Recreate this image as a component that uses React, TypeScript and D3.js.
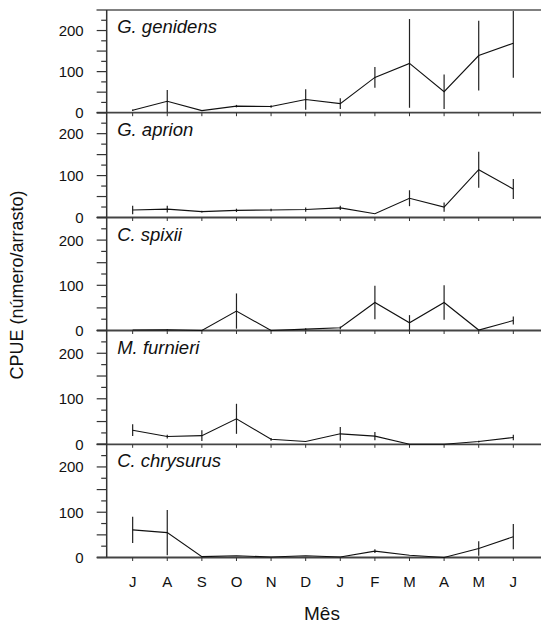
import React, { useEffect, useRef } from "react";
import * as d3 from "d3";

const months = ["J", "A", "S", "O", "N", "D", "J", "F", "M", "A", "M", "J"];
const species = ["G. genidens", "G. aprion", "C. spixii", "M. furnieri", "C. chrysurus"];

// mean CPUE per month, one array per species
const genidens = [6, 28, 5, 16, 15, 32, 22, 86, 120, 51, 139, 169];
const aprion = [18, 20, 14, 17, 18, 19, 23, 9, 46, 25, 114, 68];
const spixii = [1, 1.5, 0, 43, 0, 3, 6, 62, 17, 62, 1, 22];
const furnieri = [31, 17, 19, 56, 11, 6, 23, 18, 0, 0, 6, 15];
const chrysurus = [61, 55, 2, 4, 1, 4, 1, 14, 5, 0, 20, 46];

// half length of the error bars
const genidensErr = [2, 27, 0, 3, 3, 25, 13, 25, 108, 42, 85, 84];
const aprionErr = [10, 8, 2, 4, 3, 5, 5, 0, 19, 11, 43, 24];
const spixiiErr = [0, 1, 0, 39, 0, 2, 3, 37, 17, 38, 0, 9];
const furnieriErr = [13, 4, 12, 33, 3, 0, 15, 9, 0, 0, 2, 6];
const chrysurusErr = [29, 50, 0, 0, 0, 0, 0, 4, 0, 0, 16, 28];

const yTicks = d3.range(0, 251, 25);
const yLabels = [0, 100, 200];

const series = [genidens, aprion, spixii, furnieri, chrysurus];
const errors = [genidensErr, aprionErr, spixiiErr, furnieriErr, chrysurusErr];

const Chart = () => {
    const svgRef = useRef(null);

    useEffect(() => {
        const svg = d3.select(svgRef.current);
        svg.selectAll("*").remove();

        const W = 541;
        const axisX = 106.7;
        const bounds = [10, 112.7, 217.5, 330.5, 444.3, 557.5];
        const font = "'Liberation Sans', Arial, sans-serif";

        const x = d3.scaleLinear().domain([-0.75, 11.8]).range([axisX, W]);

        species.forEach((name, i) => {
            const top = bounds[i];
            const bottom = bounds[i + 1];
            const y = d3.scaleLinear().domain([0, 250]).range([bottom, top]);
            const g = svg.append("g");

            // y ticks: long every 50, short every 25
            g.selectAll(".yt")
                .data(yTicks)
                .enter()
                .append("line")
                .attr("x1", (d) => (d % 50 === 0 ? axisX - 10 : axisX - 5.5))
                .attr("x2", axisX)
                .attr("y1", (d) => y(d))
                .attr("y2", (d) => y(d))
                .attr("stroke", "#333")
                .attr("stroke-width", 1.2);

            g.selectAll(".yl")
                .data(yLabels)
                .enter()
                .append("text")
                .attr("x", axisX - 23)
                .attr("y", (d) => y(d))
                .attr("dy", "0.36em")
                .attr("text-anchor", "end")
                .attr("font-family", font)
                .attr("font-size", 15)
                .attr("fill", "#111")
                .text((d) => d);

            // zero line
            g.append("line")
                .attr("x1", axisX - 10)
                .attr("x2", W)
                .attr("y1", y(0))
                .attr("y2", y(0))
                .attr("stroke", "#444")
                .attr("stroke-width", 1.8);

            // month ticks
            g.selectAll(".xt")
                .data(months)
                .enter()
                .append("line")
                .attr("x1", (d, j) => x(j))
                .attr("x2", (d, j) => x(j))
                .attr("y1", y(0))
                .attr("y2", y(0) + 3.5)
                .attr("stroke", "#333")
                .attr("stroke-width", 1);

            // error bars
            const vals = series[i];
            const errs = errors[i];
            g.selectAll(".err")
                .data(vals)
                .enter()
                .append("line")
                .attr("x1", (d, j) => x(j))
                .attr("x2", (d, j) => x(j))
                .attr("y1", (d, j) => y(Math.min(250, d + errs[j])))
                .attr("y2", (d, j) => y(Math.max(0, d - errs[j])))
                .attr("stroke", "#222")
                .attr("stroke-width", 1.2);

            const line = d3
                .line<number>()
                .x((d, j) => x(j))
                .y((d) => y(d));

            g.append("path")
                .datum(vals)
                .attr("fill", "none")
                .attr("stroke", "#111")
                .attr("stroke-width", 1.1)
                .attr("d", line);

            g.append("text")
                .attr("x", axisX + 10.5)
                .attr("y", top + 23)
                .attr("font-family", font)
                .attr("font-style", "italic")
                .attr("font-size", 18.5)
                .attr("fill", "#111")
                .text(name);
        });

        // top border
        svg.append("line")
            .attr("x1", axisX - 10)
            .attr("x2", W)
            .attr("y1", bounds[0])
            .attr("y2", bounds[0])
            .attr("stroke", "#808080")
            .attr("stroke-width", 2);

        // left axis
        svg.append("line")
            .attr("x1", axisX)
            .attr("x2", axisX)
            .attr("y1", bounds[0])
            .attr("y2", bounds[5])
            .attr("stroke", "#333")
            .attr("stroke-width", 1.5);

        // month labels
        svg.selectAll(".ml")
            .data(months)
            .enter()
            .append("text")
            .attr("x", (d, j) => x(j))
            .attr("y", 587)
            .attr("text-anchor", "middle")
            .attr("font-family", font)
            .attr("font-size", 15)
            .attr("fill", "#111")
            .text((d) => d);

        svg.append("text")
            .attr("x", 322)
            .attr("y", 620)
            .attr("text-anchor", "middle")
            .attr("font-family", font)
            .attr("font-size", 19)
            .attr("fill", "#111")
            .text("Mês");

        svg.append("text")
            .attr("transform", "translate(23,285) rotate(-90)")
            .attr("text-anchor", "middle")
            .attr("font-family", font)
            .attr("font-size", 18)
            .attr("fill", "#111")
            .text("CPUE (número/arrasto)");
    }, []);

    return (
        <svg
            ref={svgRef}
            width={541}
            height={623}
            style={{ position: "absolute", left: 0, top: 0, background: "#fff" }}
        ></svg>
    );
};

export default function App() {
    return <Chart />;
}
